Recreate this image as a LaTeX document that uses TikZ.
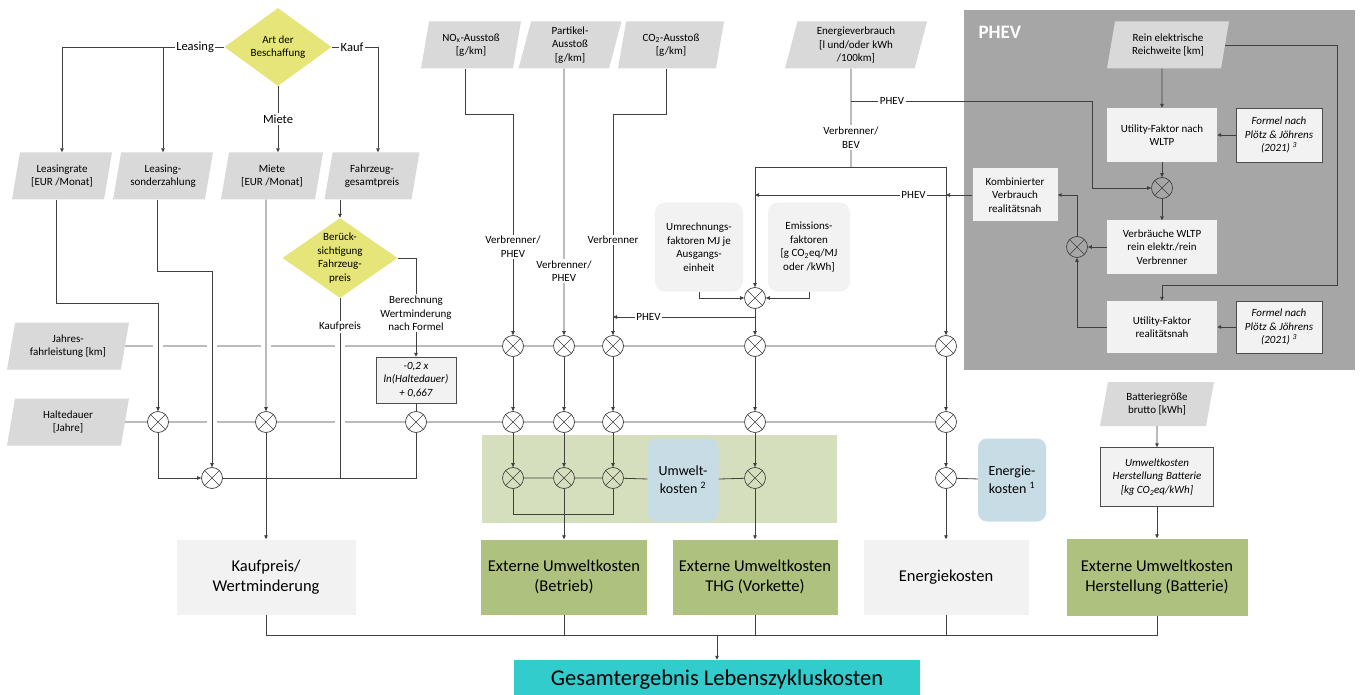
\documentclass[tikz,border=0pt]{standalone}
\usepackage{fontspec}
\setmainfont{Carlito}
\usetikzlibrary{shapes.geometric,arrows.meta}

\definecolor{inputgrey}{RGB}{217,217,217}
\definecolor{boxgrey}{RGB}{242,242,242}
\definecolor{decyellow}{RGB}{229,229,122}
\definecolor{greenarea}{RGB}{214,223,189}
\definecolor{resgreen}{RGB}{174,193,126}
\definecolor{costblue}{RGB}{200,220,229}
\definecolor{totalcyan}{RGB}{51,204,204}
\definecolor{panelgrey}{RGB}{166,166,166}

\newcommand\fntS{\fontsize{11}{13.5}\selectfont}
\newcommand\fntM{\fontsize{12.5}{15}\selectfont}
\newcommand\fntC{\fontsize{14}{18}\selectfont}
\newcommand\fntL{\fontsize{16.5}{20}\selectfont}
\newcommand\fntXL{\fontsize{22.5}{26}\selectfont}

\tikzset{
  line/.style={draw=black!75, line width=0.8pt},
  arr/.style={line, -{Triangle[length=4pt,width=3.5pt]}},
  input/.style={trapezium, trapezium left angle=72, trapezium right angle=108,
    trapezium stretches body, fill=inputgrey, align=center, font=\fntS,
    minimum height=47, inner sep=1pt},
  decision/.style={diamond, aspect=1.45, fill=decyellow, align=center,
    font=\fntS, inner sep=-4pt},
  calc/.style={rectangle, fill=boxgrey, align=center, font=\fntS, inner sep=1pt},
  formula/.style={calc, draw=black!70, font=\fntS\itshape},
  cost/.style={rectangle, rounded corners=9pt, fill=costblue, align=center,
    font=\fntC, minimum height=83},
  result/.style={rectangle, align=center, font=\fntL, minimum height=75},
  mult/.style={circle, draw=black!75, line width=0.7pt, fill=white,
    minimum size=21, inner sep=0pt,
    path picture={\draw[black!75, line width=0.6pt]
      (path picture bounding box.north west) -- (path picture bounding box.south east)
      (path picture bounding box.north east) -- (path picture bounding box.south west);}},
  lab/.style={fill=white, inner sep=1.5pt, align=center, font=\fntS},
  labM/.style={lab, font=\fntM}
}

\begin{document}
\begin{tikzpicture}[x=1pt, y=-1pt]
  \useasboundingbox (0,0) rectangle (1360,695);

  % areas
  \fill[greenarea] (482,435) rectangle (837,523);
  \fill[panelgrey] (964,10) rectangle (1355,370);
  \node[font=\fontsize{19}{22}\selectfont\bfseries, text=white, anchor=west] (phev) at (975,32) {PHEV};

  % purchase
  \node[decision, minimum width=107, minimum height=78] (art) at (278,47) {Art der\\Beschaffung};
  \node[input, minimum width=100] (lrate) at (62,176) {Leasingrate\\{}[EUR /Monat]};
  \node[input, minimum width=100] (lsonder) at (163,176) {Leasing-\\sonderzahlung};
  \node[input, minimum width=102] (miete) at (272,176) {Miete\\{}[EUR /Monat]};
  \node[input, minimum width=95] (fzg) at (372,176) {Fahrzeug-\\gesamtpreis};
  \node[decision, minimum width=115, minimum height=80] (ber) at (340,258) {Berück-\\sichtigung\\Fahrzeug-\\preis};
  \node[formula, minimum width=80, minimum height=46] (fbox) at (416,380) {-0,2 x\\ln(Haltedauer)\\+ 0,667};
  \node[input, minimum width=122] (jfl) at (68,346) {Jahres-\\fahrleistung [km]};
  \node[input, minimum width=122] (hd) at (68,422) {Haltedauer\\{}[Jahre]};

  % emissions and energy
  \node[input, minimum width=100] (nox) at (471,45) {NO\textsubscript{x}-Ausstoß\\{}[g/km]};
  \node[input, minimum width=103] (pa) at (570,45) {Partikel-\\Ausstoß\\{}[g/km]};
  \node[input, minimum width=106] (co) at (671,45) {CO\textsubscript{2}-Ausstoß\\{}[g/km]};
  \node[input, minimum width=142] (ev) at (856,45) {Energieverbrauch\\{}[l und/oder kWh\\/100km]};
  \node[calc, rounded corners=10pt, minimum width=88, minimum height=89] (um) at (699,247) {Umrechnungs-\\faktoren MJ je\\Ausgangs-\\einheit};
  \node[calc, rounded corners=10pt, minimum width=82, minimum height=89] (em) at (809,247) {Emissions-\\faktoren\\{}[g CO\textsubscript{2}eq/MJ\\oder /kWh]};

  % PHEV
  \node[input, minimum width=122] (rw) at (1168,45) {Rein elektrische\\Reichweite [km]};
  \node[calc, minimum width=110, minimum height=54] (uf1) at (1162,135) {Utility-Faktor nach\\WLTP};
  \node[formula, minimum width=86, minimum height=54] (fo1) at (1279,135) {Formel nach\\Plötz \& Jöhrens\\(2021) \textsuperscript{3}};
  \node[calc, minimum width=110, minimum height=53] (vw) at (1162,247) {Verbräuche WLTP\\rein elektr./rein\\Verbrenner};
  \node[calc, minimum width=110, minimum height=52] (uf2) at (1162,327) {Utility-Faktor\\realitätsnah};
  \node[formula, minimum width=86, minimum height=52] (fo2) at (1279,327) {Formel nach\\Plötz \& Jöhrens\\(2021) \textsuperscript{3}};
  \node[calc, minimum width=85, minimum height=53] (kv) at (1015,195) {Kombinierter\\Verbrauch\\realitätsnah};
  \node[mult, fill=panelgrey] (pUF) at (1162,188) {};
  \node[mult, fill=panelgrey] (pKV) at (1077,247) {};

  % battery
  \node[input, minimum width=114, minimum height=44] (bg) at (1157,404) {Batteriegröße\\brutto [kWh]};
  \node[formula, minimum width=113, minimum height=59] (hb) at (1157,477) {Umweltkosten\\Herstellung Batterie\\{}[kg CO\textsubscript{2}eq/kWh]};

  % multipliers
  \node[mult] (bLR) at (158,422) {};
  \node[mult] (cLS) at (212,478) {};
  \node[mult] (bMI) at (266,422) {};
  \node[mult] (bWM) at (416,422) {};
  \node[mult] (eF) at (755,298) {};
  \foreach \n/\x in {1/513,2/564,3/613,4/755,5/946} {
    \node[mult] (a\n) at (\x,346) {};
    \node[mult] (b\n) at (\x,422) {};
  }
  \foreach \n/\x in {1/513,2/564,3/613,4/755}
    \node[mult, fill=greenarea] (c\n) at (\x,478) {};
  \node[mult] (c5) at (946,478) {};

  \node[cost, minimum width=71] (uwk) at (683,480) {Umwelt-\\kosten \textsuperscript{2}};
  \node[cost, minimum width=68] (enk) at (1012,480) {Energie-\\kosten \textsuperscript{1}};

  % results
  \node[result, fill=boxgrey, minimum width=179] (kauf) at (266,577) {Kaufpreis/\\Wertminderung};
  \node[result, fill=resgreen, minimum width=166] (betr) at (564,577) {Externe Umweltkosten\\(Betrieb)};
  \node[result, fill=resgreen, minimum width=165] (thg) at (755,577) {Externe Umweltkosten\\THG (Vorkette)};
  \node[result, fill=boxgrey, minimum width=165] (ener) at (946,577) {Energiekosten};
  \node[result, fill=resgreen, minimum width=181, minimum height=77] (herst) at (1157,577) {Externe Umweltkosten\\Herstellung (Batterie)};
  \node[fill=totalcyan, minimum width=406, minimum height=40, font=\fntXL] (total) at (717,680) {Gesamtergebnis Lebenszykluskosten};

  % rows
  \draw[line] (jfl) -- (a1) -- (a2) -- (a3) -- (a4) -- (a5);
  \draw[line] (hd) -- (bLR) -- (bMI) -- (bWM) -- (b1) -- (b2) -- (b3) -- (b4) -- (b5);
  \foreach \x/\y in {158/346,212/346,266/346,340/346,212/422,340/422}
    \fill[white] (\x-5,\y-2) rectangle (\x+5,\y+2);

  % purchase connectors
  \draw[arr] (art.west) -| node[labM, pos=0.09]{Leasing} (lrate.north);
  \draw[arr] (lsonder.north |- art.west) -- (lsonder.north);
  \draw[arr] (art.south) -- node[labM]{Miete} (art.south |- miete.north);
  \draw[arr] (art.east) -| node[labM, pos=0.22]{Kauf} ([xshift=6]fzg.north);
  \draw[arr] ([xshift=-6]lrate.south) |- (158,303) -- (bLR);
  \draw[arr] ([xshift=-6]lsonder.south) |- (212,271) -- (cLS);
  \draw[arr] ([xshift=-6]miete.south) -- (bMI);
  \draw[arr] (ber.north |- fzg.south) -- (ber);
  \draw[arr] (ber) -| node[lab, pos=0.78]{Berechnung\\Wertminderung\\nach Formel} (fbox);
  \draw[line] (fbox) -- (bWM);
  \draw[line] (ber) -- node[lab, pos=0.16]{Kaufpreis} (ber.south |- cLS);
  \draw[arr] (bLR) |- (cLS);
  \draw[line] (cLS) -| (bWM);
  \draw[arr] (bMI) -- (kauf);

  % emission connectors
  \draw[arr] ([xshift=-6]nox.south) |- (513,114) -- node[lab, pos=0.6]{Verbrenner/\\PHEV} (a1);
  \draw[arr] ([xshift=-6]pa.south) -- node[lab, pos=0.76]{Verbrenner/\\PHEV} (a2);
  \draw[arr] ([xshift=-5]co.south) |- (613,114) -- node[lab, pos=0.57]{Verbrenner} (a3);
  \foreach \n in {1,...,5} {
    \draw[arr] (a\n) -- (b\n);
    \draw[arr] (b\n) -- (c\n);
  }
  \draw[line] (c1) -- (c2) -- (c3) -- (uwk);
  \draw[line] (uwk) -- (c4);
  \draw[line] (c1) |- (613,514) -- (c3);
  \draw[arr] (c2) -- (c2 |- betr.north);
  \draw[arr] (c4) -- (thg);
  \draw[line] (c5) -- (enk);
  \draw[arr] (c5) -- (ener);

  % energy connectors
  \coordinate (evp) at (851,101);
  \coordinate (evj) at (851,167);
  \coordinate (ph1) at (755,317);
  \draw[line] ([xshift=-5]ev.south) -- node[lab, pos=0.7]{Verbrenner/\\BEV} (evj);
  \draw[arr] (evj) -| (a5);
  \draw[arr] (evj) -| (eF);
  \draw[arr] (evp) -- node[lab, pos=0.17]{PHEV} (1092,101) |- (pUF);
  \draw[arr] (kv) -- (a5 |- kv);
  \draw[arr] (a5 |- kv) -- node[lab, pos=0.17]{PHEV} (eF |- kv);
  \draw[arr] (um) |- (eF);
  \draw[arr] (em) |- (eF);
  \draw[arr] (eF) -- (a4);
  \draw[arr] (ph1) -- node[lab, pos=0.75]{PHEV} (a3 |- ph1);

  % PHEV connectors
  \draw[arr] ([xshift=-6]rw.south) -- (uf1);
  \draw[arr] (fo1) -- (uf1);
  \draw[arr] (uf1) -- (pUF);
  \draw[arr] (pUF) -- (vw);
  \draw[arr] (vw) -- (pKV);
  \draw[arr] (rw.east) -| (1337,285) -| (uf2);
  \draw[arr] (fo2) -- (uf2);
  \draw[arr] (uf2) -| (pKV);
  \draw[arr] (pKV) |- (kv);

  % battery connectors
  \draw[arr] (bg) -- (hb);
  \draw[arr] (hb) -- (herst);

  % total
  \coordinate (join) at (717,635);
  \draw[line] (kauf) |- (join);
  \draw[line] (herst) |- (join);
  \draw[line] (betr) -- (betr |- join);
  \draw[line] (thg) -- (thg |- join);
  \draw[line] (ener) -- (ener |- join);
  \draw[arr] (join) -- (total);
\end{tikzpicture}
\end{document}
